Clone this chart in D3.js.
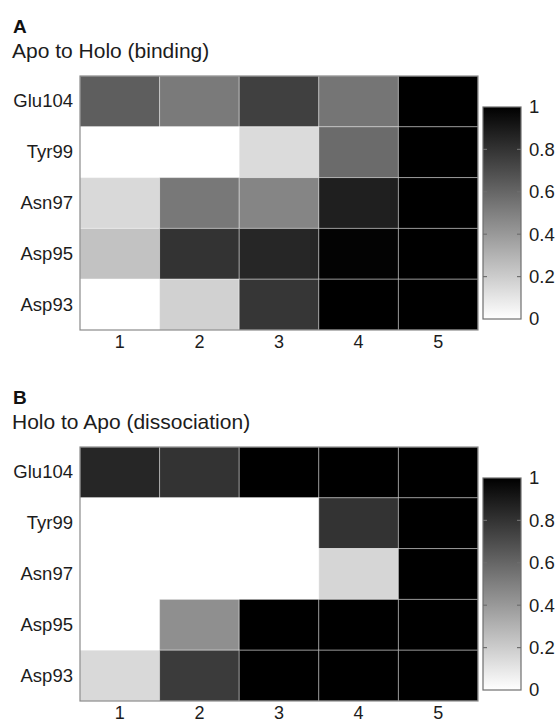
<!DOCTYPE html>
<html>
<head>
<meta charset="utf-8">
<script src="https://cdn.jsdelivr.net/npm/d3@7"></script>
<style>
  html, body { margin: 0; padding: 0; background: #fff; }
  svg { display: block; font-family: "Liberation Sans", Arial, Helvetica, sans-serif; }
</style>
</head>
<body>
<svg id="chart" width="559" height="722"></svg>
<script>
// ---------- data ----------
const residues = ["Glu104", "Tyr99", "Asn97", "Asp95", "Asp93"];
const steps = [1, 2, 3, 4, 5];
const colorbarTicks = [0, 0.2, 0.4, 0.6, 0.8, 1];

// Panel A: Apo to Holo (binding) — rows follow `residues`, columns follow `steps`
const bindingGlu104 = [0.63, 0.52, 0.75, 0.54, 1.00];
const bindingTyr99  = [0.00, 0.00, 0.14, 0.58, 1.00];
const bindingAsn97  = [0.15, 0.53, 0.48, 0.88, 1.00];
const bindingAsp95  = [0.24, 0.80, 0.85, 0.99, 1.00];
const bindingAsp93  = [0.00, 0.18, 0.79, 1.00, 1.00];

// Panel B: Holo to Apo (dissociation)
const dissocGlu104 = [0.85, 0.80, 1.00, 1.00, 1.00];
const dissocTyr99  = [0.00, 0.00, 0.00, 0.80, 1.00];
const dissocAsn97  = [0.00, 0.00, 0.00, 0.16, 1.00];
const dissocAsp95  = [0.00, 0.44, 1.00, 1.00, 1.00];
const dissocAsp93  = [0.15, 0.77, 1.00, 1.00, 1.00];

const panels = [
  { letter: "A", title: "Apo to Holo (binding)",
    rows: [bindingGlu104, bindingTyr99, bindingAsn97, bindingAsp95, bindingAsp93] },
  { letter: "B", title: "Holo to Apo (dissociation)",
    rows: [dissocGlu104, dissocTyr99, dissocAsn97, dissocAsp95, dissocAsp93] }
];

// ---------- layout ----------
const svg = d3.select("#chart");
const panelTops = [76, 447];
const heatLeft = 80, heatRight = 478, heatH = 254;
const cbLeft = 483, cbW = 38, cbTopOff = 31, cbBotOff = 11;
const textColor = "#1c1c1c";

const color = d3.scaleLinear().domain([0, 1]).range(["#ffffff", "#000000"]);

// gradient for colorbar
const defs = svg.append("defs");
const grad = defs.append("linearGradient")
  .attr("id", "cbgrad").attr("x1", 0).attr("y1", 1).attr("x2", 0).attr("y2", 0);
d3.range(0, 1.0001, 0.1).forEach(t => {
  grad.append("stop").attr("offset", t).attr("stop-color", color(t));
});

panels.forEach((p, i) => {
  const top = panelTops[i];
  const g = svg.append("g");

  // titles
  g.append("text").attr("x", 13).attr("y", top - 43)
    .attr("font-size", 19).attr("font-weight", "bold").attr("fill", "#111")
    .text(p.letter);
  g.append("text").attr("x", 12).attr("y", top - 18)
    .attr("font-size", 21).attr("fill", textColor)
    .text(p.title);

  const x = d3.scaleBand().domain(steps).range([heatLeft, heatRight]);
  const y = d3.scaleBand().domain(residues).range([top, top + heatH]);

  const cells = [];
  p.rows.forEach((vals, ri) => vals.forEach((v, ci) =>
    cells.push({ r: residues[ri], c: steps[ci], v })));

  g.append("g").selectAll("rect").data(cells).join("rect")
    .attr("x", d => x(d.c)).attr("y", d => y(d.r))
    .attr("width", x.bandwidth()).attr("height", y.bandwidth())
    .attr("fill", d => color(d.v))
    .attr("stroke", "rgba(255,255,255,0.38)").attr("stroke-width", 1);

  // outer border
  g.append("rect").attr("x", heatLeft).attr("y", top)
    .attr("width", heatRight - heatLeft).attr("height", heatH)
    .attr("fill", "none").attr("stroke", "#8a8a8a").attr("stroke-width", 1.2);

  // row labels
  const yAxis = g.append("g").attr("transform", `translate(${heatLeft - 7},0)`)
    .call(d3.axisLeft(y).tickSize(0).tickPadding(0));
  yAxis.select(".domain").remove();
  yAxis.selectAll("text").attr("font-size", 18.5).attr("fill", textColor)
    .attr("font-family", "Liberation Sans, Arial, sans-serif");

  // column labels
  const xAxis = g.append("g").attr("transform", `translate(0,${top + heatH + 5})`)
    .call(d3.axisBottom(x).tickSize(0).tickPadding(0));
  xAxis.select(".domain").remove();
  xAxis.selectAll("text").attr("font-size", 18).attr("fill", textColor)
    .attr("font-family", "Liberation Sans, Arial, sans-serif");

  // colorbar
  const cbTop = top + cbTopOff, cbBot = top + heatH - cbBotOff;
  const cs = d3.scaleLinear().domain([0, 1]).range([cbBot, cbTop]);
  g.append("rect").attr("x", cbLeft).attr("y", cbTop)
    .attr("width", cbW).attr("height", cbBot - cbTop)
    .attr("fill", "url(#cbgrad)").attr("stroke", "#6e6e6e").attr("stroke-width", 1.2);

  const inner = colorbarTicks.filter(t => t > 0 && t < 1);
  g.append("g").selectAll("line.l").data(inner).join("line")
    .attr("x1", cbLeft).attr("x2", cbLeft + 4)
    .attr("y1", d => cs(d)).attr("y2", d => cs(d))
    .attr("stroke", "#6e6e6e").attr("stroke-width", 1.2);
  g.append("g").selectAll("line.r").data(inner).join("line")
    .attr("x1", cbLeft + cbW - 4).attr("x2", cbLeft + cbW)
    .attr("y1", d => cs(d)).attr("y2", d => cs(d))
    .attr("stroke", "#6e6e6e").attr("stroke-width", 1.2);

  const cAxis = g.append("g").attr("transform", `translate(${cbLeft + cbW + 8},0)`)
    .call(d3.axisRight(cs).tickValues(colorbarTicks).tickFormat(d3.format("~g"))
      .tickSize(0).tickPadding(0));
  cAxis.select(".domain").remove();
  cAxis.selectAll("text").attr("font-size", 18.5).attr("fill", textColor)
    .attr("font-family", "Liberation Sans, Arial, sans-serif");
});
</script>
</body>
</html>
